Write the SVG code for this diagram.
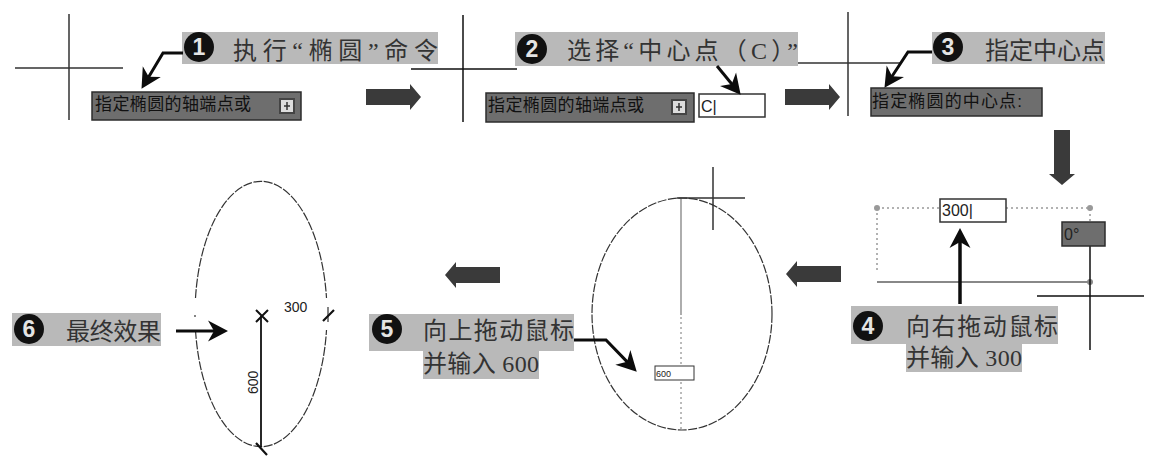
<svg xmlns="http://www.w3.org/2000/svg" width="1152" height="467" viewBox="0 0 1152 467">
<style>
.band{fill:#b9b9b9}
.cross{stroke:#333;stroke-width:1.5;fill:none}
.box{fill:#6e6e6e;stroke:#2c2c2c;stroke-width:1.5}
.input{fill:#fff;stroke:#333;stroke-width:1.5}
.num{fill:#111}
.dig{font:bold 23px "Liberation Sans","DejaVu Sans",sans-serif;fill:#e4e4e4;text-anchor:middle}
.lab{font-family:"Liberation Serif","Noto Sans CJK SC",serif;font-size:24px;fill:#333}
.cmd{font-family:"Liberation Sans","Noto Sans CJK SC",sans-serif;font-size:17px;fill:#111}
.sm{font-family:"Liberation Sans",sans-serif;fill:#222}
.dot{stroke:#999;stroke-width:1.5;stroke-dasharray:2 3;fill:none}
.ell{stroke:#333;stroke-width:1.2;fill:none;stroke-dasharray:9 1.5}
.ptr{stroke:#0c0c0c;stroke-width:3;fill:none;marker-end:url(#head)}
.blk{fill:#3a3a3a}
.ic{fill:#ddd;stroke:#444;stroke-width:2}
</style>
<defs>
<marker id="head" markerUnits="userSpaceOnUse" viewBox="0 -11 21 22" refX="7" refY="0" markerWidth="21" markerHeight="22" orient="auto"><path d="M0,-10.500 L20,0 L0,10.500 L6,0 Z" fill="#0c0c0c"/></marker>
<polygon id="blockR" points="0,5 44,5 44,0 55,13 44,26 44,21 0,21"/>
</defs>
<rect width="1152" height="467" fill="#fff"/>

<g id="step1">
<path class="cross" d="M69,14V120M15,68H123"/>
<rect class="band" x="182" y="32" width="256" height="32"/>
<circle class="num" cx="199" cy="47" r="15"/><text class="dig" x="199" y="55">1</text>
<text class="lab" x="233" y="59" textLength="205" lengthAdjust="spacing">执行“椭圆”命令</text>
<rect class="box" x="92" y="92" width="209" height="28"/>
<text class="cmd" x="95" y="110" textLength="156" lengthAdjust="spacing">指定椭圆的轴端点或</text>
<rect class="ic" x="280" y="99" width="14" height="14"/>
<path d="M287,102V110M284,106H290" stroke="#333" stroke-width="1.500"/>
</g>

<g id="step2">
<path class="cross" d="M463,15V122M411,69H517" style="stroke:#111"/>
<rect class="band" x="515" y="32" width="283" height="34"/>
<circle class="num" cx="532" cy="49" r="15"/><text class="dig" x="532" y="57">2</text>
<text class="lab" x="567" y="59" textLength="231" lengthAdjust="spacing">选择“中心点（C）”</text>
<rect class="box" x="486" y="93" width="208" height="29"/>
<text class="cmd" x="488" y="111" textLength="156" lengthAdjust="spacing">指定椭圆的轴端点或</text>
<rect class="ic" x="672" y="100" width="14" height="14"/>
<path d="M679,103V111M676,107H682" stroke="#333" stroke-width="1.500"/>
<rect class="input" x="699" y="94" width="66" height="23"/>
<text class="sm" x="701" y="112" font-size="16">C|</text>
</g>

<g id="step3">
<path class="cross" d="M848,12V116M798,63H900"/>
<rect class="band" x="932" y="32" width="173" height="32"/>
<circle class="num" cx="948" cy="47" r="15"/><text class="dig" x="948" y="55">3</text>
<text class="lab" x="985" y="59" textLength="120" lengthAdjust="spacing">指定中心点</text>
<rect class="box" x="871" y="88" width="171" height="28"/>
<text class="cmd" x="872" y="107" textLength="150" lengthAdjust="spacing">指定椭圆的中心点:</text>
</g>

<g id="step4">
<path class="dot" d="M877,208H940M1006,208H1090V222M877,208V272"/>
<circle cx="877" cy="208" r="3" fill="#999"/><circle cx="1090" cy="208" r="3" fill="#999"/>
<path d="M877,282H1092" stroke="#888" stroke-width="2"/>
<circle cx="1090" cy="282" r="3" fill="#888"/>
<path class="cross" d="M1090,246V350M1037,296H1144" style="stroke:#111"/>
<rect class="input" x="940" y="199" width="66" height="23"/>
<text class="sm" x="942" y="216" font-size="16">300|</text>
<rect class="box" x="1062" y="222" width="43" height="24"/>
<text class="sm" x="1064" y="240" font-size="16">0°</text>
<rect class="band" x="851" y="306" width="207" height="38"/>
<rect class="band" x="906" y="344" width="116" height="28"/>
<circle class="num" cx="868" cy="326" r="15"/><text class="dig" x="868" y="334">4</text>
<text class="lab" x="906" y="335" textLength="152" lengthAdjust="spacing">向右拖动鼠标</text>
<text class="lab" x="906" y="366" textLength="116" lengthAdjust="spacing">并输入 300</text>
</g>

<g id="step5">
<ellipse class="ell" cx="682" cy="314" rx="90" ry="116"/>
<path d="M681,198V315" stroke="#777" stroke-width="1.2"/>
<path class="dot" d="M681,317V430" style="stroke-width:1;stroke:#777"/>
<path class="cross" d="M713,167V230M677,198H745"/>
<rect class="input" x="655" y="366" width="39" height="14" style="stroke-width:1"/>
<text class="sm" x="656" y="377" font-size="9">600</text>
<rect class="band" x="369" y="314" width="205" height="37"/>
<rect class="band" x="423" y="351" width="116" height="28"/>
<circle class="num" cx="387" cy="329" r="15"/><text class="dig" x="387" y="337">5</text>
<text class="lab" x="423" y="339" textLength="151" lengthAdjust="spacing">向上拖动鼠标</text>
<text class="lab" x="423" y="372" textLength="116" lengthAdjust="spacing">并输入 600</text>
</g>

<g id="step6">
<path class="ell" d="M195.500,298A66,133 0 0 1 326.500,298M195.500,330A66,133 0 0 0 326.500,330"/>
<path d="M195,315V317M328,307V322" stroke="#333" stroke-width="1.2"/>
<path d="M256,310L268,322M268,310L256,322" stroke="#111" stroke-width="2" fill="none"/>
<path d="M261,316V447" stroke="#111" stroke-width="1.8"/>
<path d="M256,443L267,455M323,321L334,310" stroke="#111" stroke-width="2.2"/>
<text class="sm" x="284" y="312" font-size="14">300</text>
<text class="sm" transform="translate(258,394) rotate(-90)" font-size="14">600</text>
<rect class="band" x="12" y="313" width="149" height="33"/>
<circle class="num" cx="29" cy="329" r="15"/><text class="dig" x="29" y="337">6</text>
<text class="lab" x="66" y="340" textLength="95" lengthAdjust="spacing">最终效果</text>
</g>

<g id="connectors">
<path class="ptr" d="M183,53H163L148.200,77.700"/>
<path class="ptr" d="M717,66L732.400,84.700"/>
<path class="ptr" d="M932,52H908L891.600,77"/>
<path class="ptr" d="M960,304V241" style="stroke-width:3.500"/>
<path class="ptr" d="M574,340H606L627.700,362.400"/>
<path class="ptr" d="M176,331H215"/>
<use class="blk" href="#blockR" x="366" y="84"/>
<use class="blk" href="#blockR" x="785" y="84"/>
<use class="blk" href="#blockR" transform="translate(1075,130) rotate(90)"/>
<use class="blk" href="#blockR" transform="translate(841,287) rotate(180)"/>
<use class="blk" href="#blockR" transform="translate(500,288) rotate(180)"/>
</g>
</svg>
